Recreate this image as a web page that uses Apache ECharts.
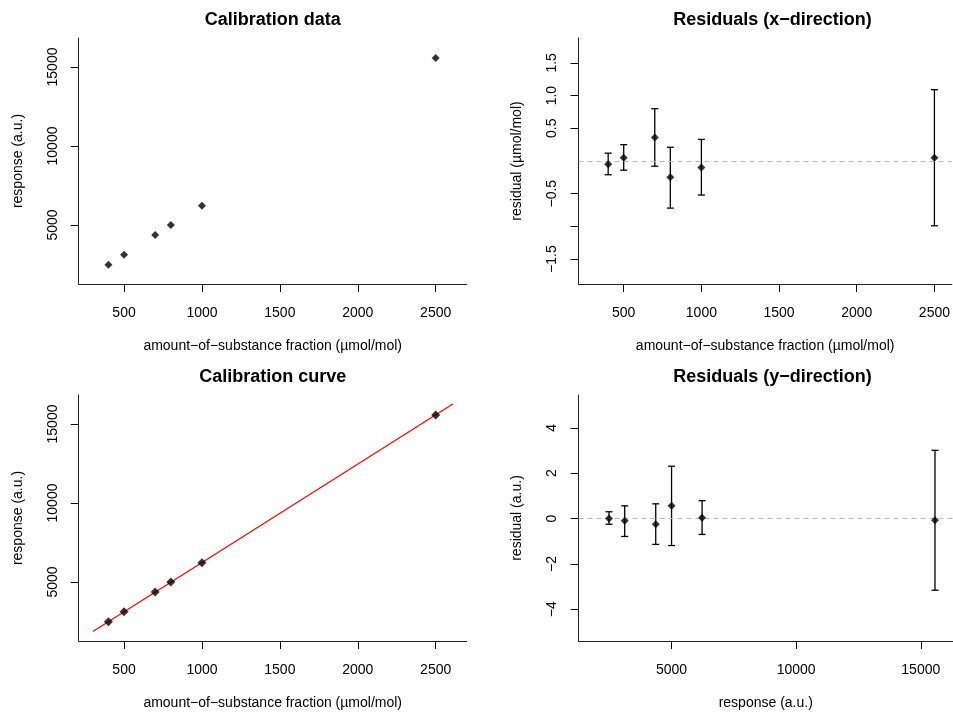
<!DOCTYPE html>
<html>
<head>
<meta charset="utf-8">
<script src="https://cdn.jsdelivr.net/npm/echarts@6/dist/echarts.min.js"></script>
<style>
html,body{margin:0;padding:0;background:#fff;}
#chart{width:953px;height:713px;}
</style>
</head>
<body>
<div id="chart"></div>
<script>
// ---- data ----
const fraction = [400, 500, 700, 800, 1000, 2500];            // µmol/mol
const response = [2490, 3120, 4365, 5000, 6225, 15570];       // a.u.
const residX     = [-0.05, 0.05, 0.36, -0.25, -0.10, 0.05];
const residXLow  = [-0.21, -0.14, -0.08, -0.72, -0.52, -0.99];
const residXHigh = [0.12, 0.25, 0.80, 0.21, 0.33, 1.09];
const residY     = [0.00, -0.10, -0.25, 0.56, 0.04, -0.07];
const residYLow  = [-0.25, -0.79, -1.14, -1.19, -0.70, -3.16];
const residYHigh = [0.30, 0.56, 0.65, 2.31, 0.79, 3.01];
const fitX = [300, 2610];
const fitY = [1860, 16270];

const fracTicks = [500, 1000, 1500, 2000, 2500];
const respTicks = [5000, 10000, 15000];
const residXTicks = [-1.5, -1, -0.5, 0.5, 1, 1.5];
const residXLabels = [-1.5, -0.5, 0.5, 1, 1.5];
const residYTicks = [-4, -2, 0, 2, 4];

const titles = ['Calibration data', 'Residuals (x\u2212direction)', 'Calibration curve', 'Residuals (y\u2212direction)'];
const xNames = ['amount\u2212of\u2212substance fraction (\u00b5mol/mol)', 'amount\u2212of\u2212substance fraction (\u00b5mol/mol)',
                'amount\u2212of\u2212substance fraction (\u00b5mol/mol)', 'response (a.u.)'];
const yNames = ['response (a.u.)', 'residual (\u00b5mol/mol)', 'response (a.u.)', 'residual (a.u.)'];

// ---- layout (right panels are cut by the page edge) ----
const FONT = '"Liberation Sans", Arial, Helvetica, sans-serif';
const grids = [
  {left: 78.7, top: 38, width: 388, height: 246},
  {left: 578.5, top: 38, width: 374.5, height: 246},
  {left: 78.7, top: 395, width: 388, height: 246},
  {left: 578.5, top: 395, width: 374.5, height: 246}
];
const xRange = [[209, 2699], [209, 2612], [209, 2699], [1266, 16293]];
const yRange = [[1266, 16835], [-1.88, 1.88], [1266, 16835], [-5.4, 5.45]];

function minusFmt(dec) {
  return v => (v < 0 ? '\u2212' : '') + Math.abs(v).toFixed(dec);
}

function makeAxis(dim, i, ticks, labels, fmt, name) {
  const isY = dim === 'y';
  const r = isY ? yRange[i] : xRange[i];
  return {
    type: 'value', gridIndex: i, min: r[0], max: r[1],
    name: name, nameLocation: 'middle', nameGap: isY ? 54 : 55,
    nameRotate: isY ? 90 : 0,
    nameTextStyle: {fontSize: 14, color: '#000', fontFamily: FONT},
    axisLine: {show: true, onZero: false, lineStyle: {color: '#222', width: 1}},
    axisTick: {show: true, inside: false, length: 8, customValues: ticks, lineStyle: {color: '#000', width: 1}},
    axisLabel: {show: true, customValues: labels, margin: isY ? 19 : 22, rotate: isY ? 90 : 0,
                fontSize: 14, color: '#000', fontFamily: FONT, formatter: fmt, showMinLabel: true, showMaxLabel: true},
    splitLine: {show: false}
  };
}

const xAxes = [
  makeAxis('x', 0, fracTicks, fracTicks, v => String(v), xNames[0]),
  makeAxis('x', 1, fracTicks, fracTicks, v => String(v), xNames[1]),
  makeAxis('x', 2, fracTicks, fracTicks, v => String(v), xNames[2]),
  makeAxis('x', 3, respTicks, respTicks, v => String(v), xNames[3])
];
const yAxes = [
  makeAxis('y', 0, respTicks, respTicks, v => String(v), yNames[0]),
  makeAxis('y', 1, residXTicks, residXLabels, minusFmt(1), yNames[1]),
  makeAxis('y', 2, respTicks, respTicks, v => String(v), yNames[2]),
  makeAxis('y', 3, residYTicks, residYTicks, minusFmt(0), yNames[3])
];

function pairs(xs, ys) { return xs.map((x, k) => [x, ys[k]]); }

function pointSeries(i, xs, ys, extra) {
  return Object.assign({
    type: 'scatter', xAxisIndex: i, yAxisIndex: i,
    data: pairs(xs, ys), symbol: 'diamond', symbolSize: 8,
    itemStyle: {color: '#000'}, z: 5, silent: true
  }, extra || {});
}

function errorBars(i, xs, lo, hi) {
  return {
    type: 'custom', xAxisIndex: i, yAxisIndex: i, z: 4, silent: true,
    data: xs.map((x, k) => [x, lo[k], hi[k]]),
    encode: {x: 0, y: [1, 2]},
    renderItem: function (params, api) {
      const x = api.value(0);
      const p1 = api.coord([x, api.value(1)]);
      const p2 = api.coord([x, api.value(2)]);
      const w = 3.5;
      const st = {stroke: '#000', lineWidth: 1.3};
      return {type: 'group', children: [
        {type: 'line', shape: {x1: p1[0], y1: p1[1], x2: p2[0], y2: p2[1]}, style: st},
        {type: 'line', shape: {x1: p1[0] - w, y1: p1[1], x2: p1[0] + w, y2: p1[1]}, style: st},
        {type: 'line', shape: {x1: p2[0] - w, y1: p2[1], x2: p2[0] + w, y2: p2[1]}, style: st}
      ]};
    }
  };
}

const zeroLine = {
  silent: true, symbol: 'none', label: {show: false},
  lineStyle: {color: '#b8b8b8', type: [5, 4], width: 1},
  data: [{yAxis: 0}], animation: false
};

const titleCenters = [[272.7, 20.5], [772.5, 20.5], [272.7, 377.5], [772.5, 377.5]];

const option = {
  animation: false,
  backgroundColor: '#fff',
  textStyle: {fontFamily: FONT},
  grid: grids,
  xAxis: xAxes,
  yAxis: yAxes,
  graphic: titles.map((t, k) => ({
    type: 'text', x: titleCenters[k][0], y: titleCenters[k][1], silent: true,
    style: {text: t, fill: '#000', font: 'bold 18px ' + FONT, textAlign: 'center', textVerticalAlign: 'middle'}
  })),
  series: [
    pointSeries(0, fraction, response),
    errorBars(1, fraction, residXLow, residXHigh),
    pointSeries(1, fraction, residX, {markLine: zeroLine}),
    {type: 'line', xAxisIndex: 2, yAxisIndex: 2, data: pairs(fitX, fitY), symbol: 'none',
     lineStyle: {color: '#ff0000', width: 1.2}, z: 3, silent: true},
    pointSeries(2, fraction, response, {symbolSize: 9}),
    errorBars(3, response, residYLow, residYHigh),
    pointSeries(3, response, residY, {markLine: zeroLine})
  ]
};

const chart = echarts.init(document.getElementById('chart'), null, {renderer: 'canvas'});
chart.setOption(option);
</script>
</body>
</html>
